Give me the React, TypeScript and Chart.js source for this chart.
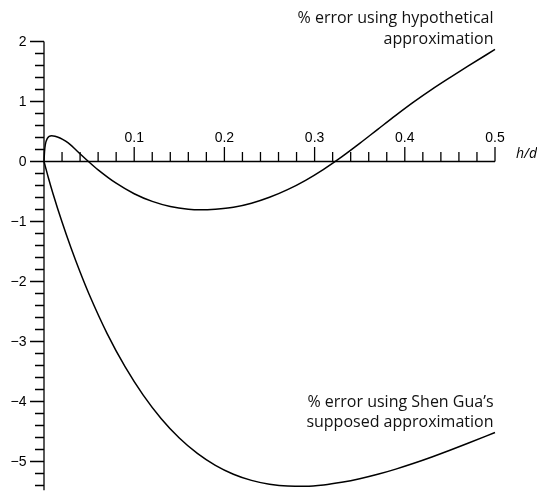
import React, { useEffect, useRef } from 'react';
import { Chart, registerables } from 'chart.js';

Chart.register(...registerables);

// Hypothetical approximation error (%) vs h/d
const hypX = [0, 0.00055, 0.0014, 0.0037, 0.0085, 0.0122, 0.0177, 0.024, 0.0288, 0.035, 0.0399, 0.0493, 0.06, 0.08, 0.1, 0.12, 0.14, 0.16, 0.173, 0.19, 0.21, 0.23, 0.25, 0.27, 0.29, 0.31, 0.33, 0.35, 0.37, 0.39, 0.41, 0.43, 0.45, 0.47, 0.5];
const hypY = [0, 0.158, 0.275, 0.387, 0.43, 0.422, 0.392, 0.338, 0.285, 0.2, 0.13, 0, -0.139, -0.362, -0.537, -0.665, -0.75, -0.796, -0.806, -0.796, -0.764, -0.696, -0.597, -0.469, -0.313, -0.13, 0.077, 0.302, 0.536, 0.769, 0.993, 1.202, 1.398, 1.588, 1.868];

// Shen Gua's supposed approximation error (%) vs h/d
const shenX = [0, 0.005, 0.01, 0.02, 0.03, 0.04, 0.05, 0.07, 0.09, 0.11, 0.13, 0.15, 0.17, 0.19, 0.21, 0.23, 0.25, 0.27, 0.29, 0.31, 0.33, 0.35, 0.37, 0.39, 0.41, 0.43, 0.45, 0.47, 0.5];
const shenY = [0, -0.279, -0.537, -1.01, -1.443, -1.843, -2.213, -2.868, -3.423, -3.893, -4.286, -4.608, -4.865, -5.064, -5.212, -5.315, -5.379, -5.41, -5.413, -5.391, -5.347, -5.288, -5.214, -5.127, -5.03, -4.925, -4.813, -4.696, -4.516];

const xMajorTicks = [0.1, 0.2, 0.3, 0.4, 0.5];
const xTickLabels = ['0.1', '0.2', '0.3', '0.4', '0.5'];
const yMajorTicks = [2, 1, 0, -1, -2, -3, -4, -5];
const yTickLabels = ['2', '1', '0', '\u22121', '\u22122', '\u22123', '\u22124', '\u22125'];
const xAxisTitle = 'h/d';
const hypLabel = ['% error using hypothetical', 'approximation'];
const shenLabel = ['% error using Shen Gua\u2019s', 'supposed approximation'];

const X_MIN = 0, X_MAX = 0.5, Y_MIN = -5.4, Y_MAX = 2;

const axesPlugin = {
  id: 'crossAxes',
  afterDatasetsDraw(chart: any) {
    const ctx = chart.ctx;
    const xs = chart.scales.x;
    const ys = chart.scales.y;
    const x0 = xs.getPixelForValue(0);
    const y0 = ys.getPixelForValue(0);
    const xEnd = xs.getPixelForValue(X_MAX);
    ctx.save();
    ctx.strokeStyle = '#000';
    ctx.lineWidth = 1.3;
    ctx.beginPath();
    ctx.moveTo(x0, ys.getPixelForValue(Y_MAX));
    ctx.lineTo(x0, ys.getPixelForValue(-5.48));
    ctx.moveTo(x0 - 14, y0);
    ctx.lineTo(xEnd, y0);
    for (let i = 1; i <= 25; i++) {
      const px = xs.getPixelForValue(i * 0.02);
      const major = i % 5 === 0;
      ctx.moveTo(px, y0);
      ctx.lineTo(px, y0 - (major ? 14.5 : 9.5));
    }
    for (let i = -27; i <= 10; i++) {
      const py = ys.getPixelForValue(i * 0.2);
      const major = i % 5 === 0;
      ctx.moveTo(x0, py);
      ctx.lineTo(x0 - (major ? 14 : 9), py);
    }
    ctx.stroke();

    ctx.fillStyle = '#000';
    ctx.font = '14px "Liberation Sans", Arial, sans-serif';
    ctx.textAlign = 'center';
    ctx.textBaseline = 'alphabetic';
    xMajorTicks.forEach((v, i) => {
      ctx.fillText(xTickLabels[i], xs.getPixelForValue(v), y0 - 19.5);
    });
    ctx.textAlign = 'right';
    ctx.textBaseline = 'middle';
    yMajorTicks.forEach((v, i) => {
      ctx.fillText(yTickLabels[i], x0 - 17.5, ys.getPixelForValue(v) + 0.5);
    });

    ctx.font = 'italic 14px "Open Sans", sans-serif';
    ctx.textAlign = 'left';
    ctx.textBaseline = 'middle';
    ctx.fillText(xAxisTitle, xEnd + 21, y0 - 7);

    ctx.fillStyle = '#111';
    ctx.font = '16px "Open Sans", sans-serif';
    ctx.textAlign = 'right';
    ctx.textBaseline = 'alphabetic';
    const rx = xEnd - 1.5;
    ctx.fillText(hypLabel[0], rx, ys.getPixelForValue(2.313));
    ctx.fillText(hypLabel[1], rx, ys.getPixelForValue(1.953));
    ctx.fillText(shenLabel[0], rx, ys.getPixelForValue(-4.087));
    ctx.fillText(shenLabel[1], rx, ys.getPixelForValue(-4.43));
    ctx.restore();
  },
};

export default function App() {
  const ref = useRef<HTMLCanvasElement | null>(null);
  useEffect(() => {
    if (!ref.current) return;
    const common = {
      showLine: true,
      borderColor: '#000',
      borderWidth: 1.5,
      pointRadius: 0,
      cubicInterpolationMode: 'monotone',
      clip: false,
    };
    const chart = new Chart(ref.current, {
      type: 'scatter',
      data: {
        datasets: [
          { ...common, data: hypX.map((x, i) => ({ x, y: hypY[i] })) } as any,
          { ...common, data: shenX.map((x, i) => ({ x, y: shenY[i] })) } as any,
        ],
      },
      options: {
        animation: false,
        responsive: false,
        events: [],
        layout: { padding: { left: 44, right: 42, top: 41.5, bottom: 11.5 } },
        scales: {
          x: { type: 'linear', min: X_MIN, max: X_MAX, display: false },
          y: { type: 'linear', min: Y_MIN, max: Y_MAX, display: false },
        },
        plugins: { legend: { display: false }, tooltip: { enabled: false } },
      },
      plugins: [axesPlugin],
    });
    return () => chart.destroy();
  }, []);
  return (
    <div style={{ position: 'fixed', left: 0, top: 0, width: 537, height: 497, background: '#fff' }}>
      <canvas ref={ref} width={537} height={497} style={{ display: 'block' }} />
    </div>
  );
}
